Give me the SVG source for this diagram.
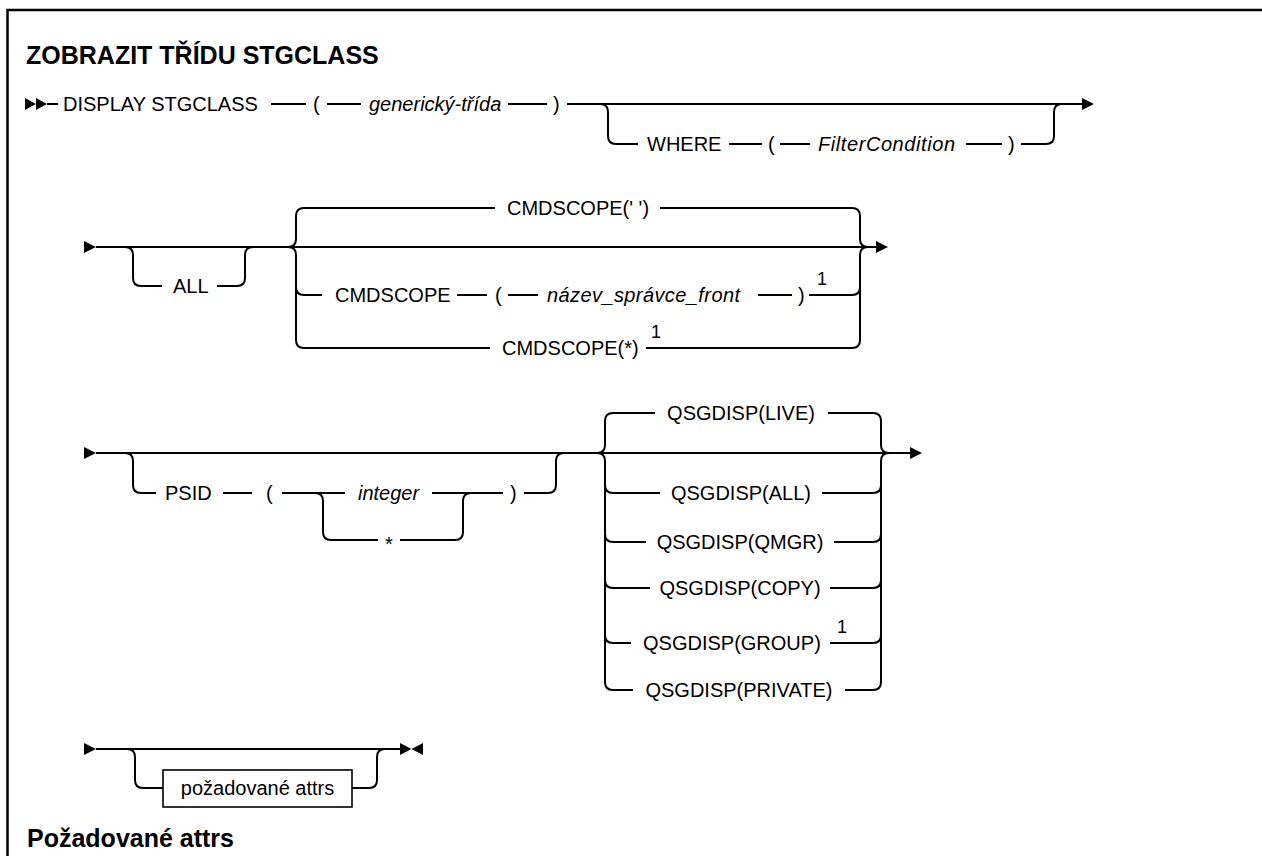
<svg xmlns="http://www.w3.org/2000/svg" width="1262" height="856" viewBox="0 0 1262 856">
<style>
.ln{fill:none;stroke:#000;stroke-width:2}
.fr{fill:none;stroke:#000;stroke-width:2.5}
.ah{fill:#000;stroke:none}
text{font-family:"Liberation Sans",Arial,sans-serif;font-size:20px;fill:#000}
.i{font-style:italic}
.h{font-weight:bold;font-size:25px}
.sup{font-size:18px}
.box{fill:#fff;stroke:#000;stroke-width:1.6}
</style>
<rect x="0" y="0" width="1262" height="856" fill="#fff"/>
<path class="fr" d="M7.5,856 V10 H1262"/>
<g id="title"><text class="h" x="26" y="64">ZOBRAZIT TŘÍDU STGCLASS</text></g>

<g id="connectors">
<!-- row 1 -->
<path class="ah" d="M25,98 L36,104 L25,110 Z M36,98 L47,104 L36,110 Z"/>
<path class="ln" d="M47,104 H58 M271,104 H306 M327,104 H361 M508,104 H547 M567,104 H1082"/>
<path class="ah" d="M1082,98 L1094,104 L1082,110 Z"/>
<path class="ln" d="M600,104 q8,0 8,8 v24 q0,8 8,8 H638 M729,144 H762 M780,144 H810 M966,144 H1002 M1021,144 H1046 q8,0 8,-8 v-24 q0,-8 8,-8"/>
<!-- row 2 -->
<path class="ah" d="M84,241 L96,247 L84,253 Z"/>
<path class="ln" d="M96,247 H876"/>
<path class="ah" d="M876,241 L888,247 L876,253 Z"/>
<path class="ln" d="M125,247 q8,0 8,8 v23 q0,8 8,8 H162 M217,286 H237 q8,0 8,-8 v-23 q0,-8 8,-8"/>
<path class="ln" d="M288,247 q8,0 8,-8 v-23 q0,-8 8,-8 H495 M660,208 H852 q8,0 8,8 v23 q0,8 8,8"/>
<path class="ln" d="M288,247 q8,0 8,8 v85 q0,8 8,8 H490 M296,287 q0,8 8,8 H322 M457,295 H487 M508,295 H538 M758,295 H792 M809,295 H852 q8,0 8,-8 M646,348 H852 q8,0 8,-8 V255 q0,-8 8,-8"/>
<!-- row 3 -->
<path class="ah" d="M84,447 L96,453 L84,459 Z"/>
<path class="ln" d="M96,453 H910"/>
<path class="ah" d="M910,447 L922,453 L910,459 Z"/>
<path class="ln" d="M125,453 q8,0 8,8 v24 q0,8 8,8 H156 M223,493 H252 M282,493 H345 M432,493 H503 M524,493 H548 q8,0 8,-8 v-24 q0,-8 8,-8"/>
<path class="ln" d="M315,493 q8,0 8,8 v31 q0,8 8,8 H378 M400,540 H455 q8,0 8,-8 v-31 q0,-8 8,-8"/>
<path class="ln" d="M597,453 q8,0 8,-8 v-24 q0,-8 8,-8 H655 M828,413 H873 q8,0 8,8 v24 q0,8 8,8"/>
<path class="ln" d="M597,453 q8,0 8,8 v221 q0,8 8,8 H633 M605,485 q0,8 8,8 H660 M605,534 q0,8 8,8 H646 M605,580 q0,8 8,8 H650 M605,635 q0,8 8,8 H631"/>
<path class="ln" d="M822,493 H873 q8,0 8,-8 M834,542 H873 q8,0 8,-8 M830,588 H873 q8,0 8,-8 M830,643 H873 q8,0 8,-8 M845,690 H873 q8,0 8,-8 V461 q0,-8 8,-8"/>
<!-- row 4 -->
<path class="ah" d="M84,743 L96,749 L84,755 Z"/>
<path class="ln" d="M96,749 H400"/>
<path class="ah" d="M400,743 L411.5,749 L400,755 Z M423,743 L411.5,749 L423,755 Z"/>
<path class="ln" d="M127,749 q8,0 8,8 v23 q0,8 8,8 H163 M352,788 H369 q8,0 8,-8 v-23 q0,-8 8,-8"/>
</g>

<g id="n-display"><text x="63" y="111">DISPLAY STGCLASS</text></g>
<g id="n-lp1"><text x="313" y="111">(</text></g>
<g id="n-generic"><text class="i" x="369" y="111">generický-třída</text></g>
<g id="n-rp1"><text x="553" y="111">)</text></g>
<g id="n-where"><text x="647" y="151">WHERE</text></g>
<g id="n-lp2"><text x="768" y="151">(</text></g>
<g id="n-filter"><text class="i" x="818" y="151" textLength="137">FilterCondition</text></g>
<g id="n-rp2"><text x="1008" y="151">)</text></g>

<g id="n-all"><text x="173" y="293">ALL</text></g>
<g id="n-cmdscope-blank"><text x="507" y="215">CMDSCOPE(' ')</text></g>
<g id="n-cmdscope"><text x="335" y="302">CMDSCOPE</text></g>
<g id="n-lp3"><text x="495" y="302">(</text></g>
<g id="n-qmgrname"><text class="i" x="547" y="302" textLength="193">název_správce_front</text></g>
<g id="n-rp3"><text x="798" y="302">)</text><text class="sup" x="817" y="285">1</text></g>
<g id="n-cmdscope-star"><text x="502" y="355">CMDSCOPE(*)</text><text class="sup" x="651" y="338">1</text></g>

<g id="n-psid"><text x="165" y="500">PSID</text></g>
<g id="n-lp4"><text x="266" y="500">(</text></g>
<g id="n-integer"><text class="i" x="358" y="500">integer</text></g>
<g id="n-star"><text x="385" y="551">*</text></g>
<g id="n-rp4"><text x="510" y="500">)</text></g>
<g id="n-live"><text x="741" y="420" text-anchor="middle">QSGDISP(LIVE)</text></g>
<g id="n-qall"><text x="741" y="500" text-anchor="middle">QSGDISP(ALL)</text></g>
<g id="n-qmgr"><text x="740" y="549" text-anchor="middle">QSGDISP(QMGR)</text></g>
<g id="n-copy"><text x="740" y="595" text-anchor="middle">QSGDISP(COPY)</text></g>
<g id="n-group"><text x="643" y="650">QSGDISP(GROUP)</text><text class="sup" x="837" y="633">1</text></g>
<g id="n-private"><text x="739" y="697" text-anchor="middle">QSGDISP(PRIVATE)</text></g>

<g id="n-reqattrs"><rect class="box" x="163" y="770" width="189" height="37"/><text x="257.5" y="795" text-anchor="middle">požadované attrs</text></g>
<g id="heading"><text class="h" x="27" y="847">Požadované attrs</text></g>
</svg>
